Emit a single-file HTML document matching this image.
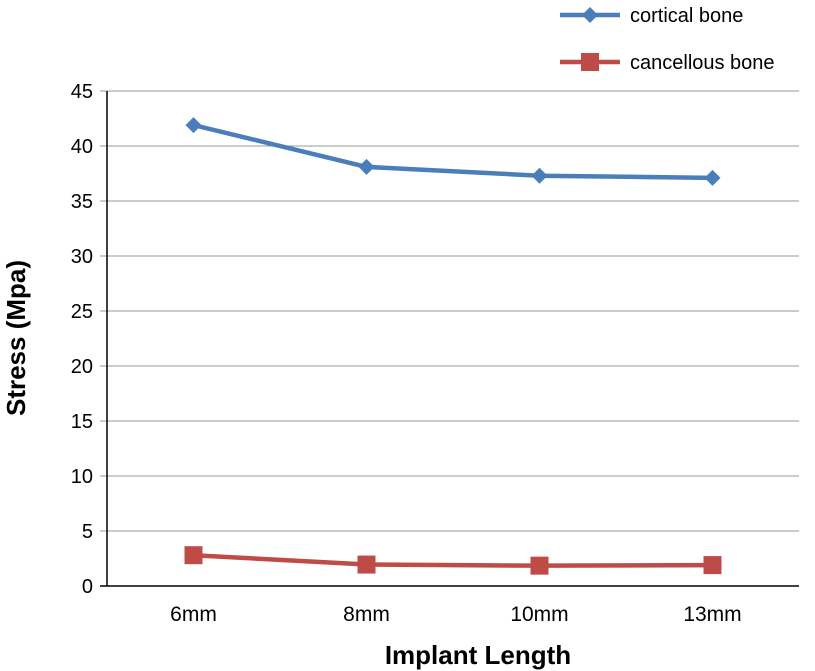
<!DOCTYPE html>
<html><head><meta charset="utf-8"><style>
body{margin:0;background:#fff;}
svg{display:block;font-family:"Liberation Sans",Arial,sans-serif;}
</style></head><body>
<svg id="chart" width="815" height="671"></svg>
<script>
const categories=["6mm","8mm","10mm","13mm"];
const corticalValues=[41.9,38.1,37.3,37.1];
const cancellousValues=[2.8,1.95,1.85,1.9];
const yTicks=[0,5,10,15,20,25,30,35,40,45];

const svg=document.getElementById('chart');
const NS="http://www.w3.org/2000/svg";
const L=107,R=799,T=91,B=586;
const yScale=v=>B-(v/45)*(B-T);
const xScale=i=>L+(i+0.5)*(R-L)/categories.length;
function mk(tag,attrs,parent){const e=document.createElementNS(NS,tag);for(const k in attrs)e.setAttribute(k,attrs[k]);(parent||svg).appendChild(e);return e;}

yTicks.forEach(t=>{
  const y=yScale(t);
  const g=mk('line',{x1:L-7,x2:R,y1:y,y2:y,stroke:t===0?'#000':'#999','stroke-width':t===0?1.5:1});
  
  
  const tx=mk('text',{x:L-14,y:y+7,'text-anchor':'end','font-size':20,fill:'#000'});
  tx.textContent=t;
  
  
});
const ax=mk('line',{x1:L,x2:L,y1:T,y2:B,stroke:'#000','stroke-width':1.5});


categories.forEach((c,i)=>{
  const x=xScale(i);
  const tx=mk('text',{x:x,y:621,'text-anchor':'middle','font-size':21,fill:'#000'});
  tx.textContent=c;
  
  
});
function series(vals,color,name,marker){
  const pts=vals.map((v,i)=>xScale(i)+','+yScale(v)).join(' ');
  const pl=mk('polyline',{points:pts,fill:'none',stroke:color,'stroke-width':4.5,'stroke-linejoin':'round'});
  
  
  vals.forEach((v,i)=>{
    const x=xScale(i),y=yScale(v);
    let m;
    if(marker==='d') m=mk('polygon',{points:`${x},${y-8} ${x+8},${y} ${x},${y+8} ${x-8},${y}`,fill:color});
    else m=mk('rect',{x:x-9,y:y-9,width:18,height:18,fill:color});
    
    
  });
}
series(corticalValues,'#4a7ebb','cortical','d');
series(cancellousValues,'#be4b48','cancellous','s');

function legend(y,color,label,marker,name){
  const g=mk('g',{});
  
  
  mk('line',{x1:560,x2:620,y1:y,y2:y,stroke:color,'stroke-width':4.5},g);
  if(marker==='d') mk('polygon',{points:`590,${y-8} 598,${y} 590,${y+8} 582,${y}`,fill:color},g);
  else mk('rect',{x:581,y:y-9,width:18,height:18,fill:color},g);
  const t=mk('text',{x:630,y:y+7,'font-size':20,fill:'#000'},g);
  t.textContent=label;
}
legend(15,'#4a7ebb','cortical bone','d','legend-cortical');
legend(62,'#be4b48','cancellous bone','s','legend-cancellous');

const xt=mk('text',{x:478,y:664,'text-anchor':'middle','font-size':26,'font-weight':'bold',fill:'#000'});
xt.textContent='Implant Length';


const yt=mk('text',{x:0,y:0,'text-anchor':'middle','font-size':26,'font-weight':'bold',fill:'#000',transform:'translate(25,338) rotate(-90)'});
yt.textContent='Stress (Mpa)';


</script>
</body></html>
